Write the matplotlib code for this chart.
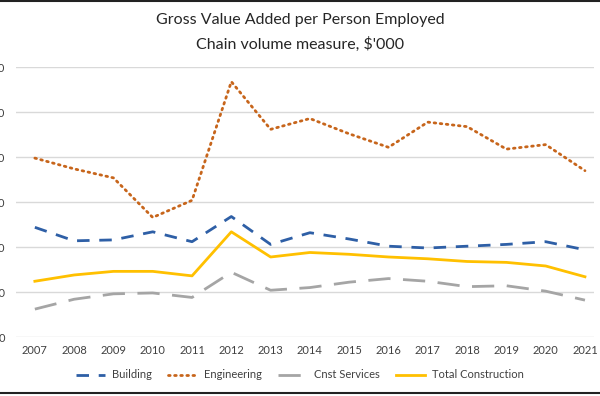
import numpy as np
import matplotlib
matplotlib.use("Agg")
import matplotlib.pyplot as plt
from matplotlib.lines import Line2D

plt.rcParams['font.family'] = ['Lato', 'DejaVu Sans']

years = list(range(2007, 2022))
building = [122, 107, 108, 117, 106, 134, 103, 116, 109, 101, 99, 101, 103, 106, 97]
engineering = [199, 187, 177, 133, 152, 284, 231, 243, 226, 211, 239, 234, 209, 214, 185]
cnst_services = [31, 42, 48, 49, 44, 72, 52, 55, 61, 65, 62, 56, 57, 51, 41]
total_construction = [62, 69, 73, 73, 68, 117, 89, 94, 92, 89, 87, 84, 83, 79, 67]
y_ticks = [0, 50, 100, 150, 200, 250, 300]

fig = plt.figure(figsize=(6, 3.96), dpi=100)
ax = fig.add_axes([16 / 600, 1 - 337 / 396, (594 - 16) / 600, (337 - 67.3) / 396])

lw = 2.0
ax.plot(years, building, color='#2E5FA6', lw=lw, dashes=(4.5, 3.5), label='Building')
ax.plot(years, engineering, color='#C7651B', lw=lw, dashes=(0.6, 1.6),
        dash_capstyle='round', label='Engineering')
ax.plot(years, cnst_services, color='#A5A5A5', lw=lw, dashes=(8, 4.5), label='Cnst Services')
ax.plot(years, total_construction, color='#FFC000', lw=lw, label='Total Construction')

ax.set_xlim(2006.52, 2021.23)
ax.set_ylim(0, 300)
ax.set_xticks(years)
ax.set_yticks(y_ticks)
ax.tick_params(axis='both', length=0, labelsize=8, colors='#404040')
ax.tick_params(axis='y', pad=8)
ax.tick_params(axis='x', pad=6)
ax.grid(axis='y', color='#D9D9D9', lw=1)
ax.set_axisbelow(True)
for s in ax.spines.values():
    s.set_visible(False)

fig.text(0.5, 1 - 20 / 396, 'Gross Value Added per Person Employed', ha='center', va='center',
         fontsize=11.5, color='#262626')
fig.text(0.5, 1 - 44 / 396, "Chain volume measure, $'000", ha='center', va='center',
         fontsize=11.5, color='#262626')

fig.legend(loc='center', bbox_to_anchor=(300 / 600, 1 - 375 / 396), ncol=4, frameon=False,
           fontsize=8, handlelength=2.6, columnspacing=1.5, handletextpad=0.6,
           labelcolor='#404040')

# frame lines top and bottom
fig.add_artist(Line2D([0, 1], [1 - 1 / 396, 1 - 1 / 396], color='#222222', lw=1.5))
fig.add_artist(Line2D([0, 1], [1 - 393 / 396, 1 - 393 / 396], color='#222222', lw=1.5))

fig.savefig('out.png', dpi=100)
